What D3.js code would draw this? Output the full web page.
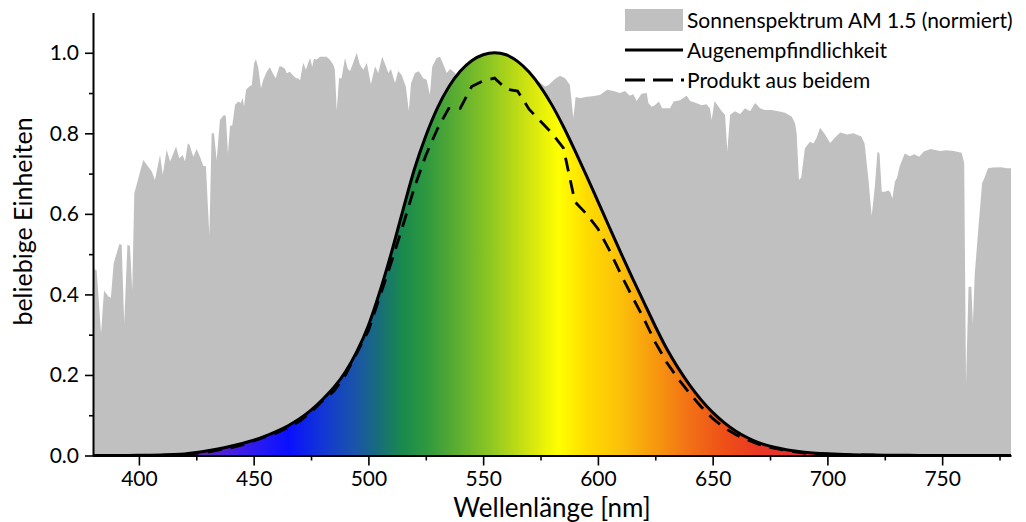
<!DOCTYPE html>
<html>
<head>
<meta charset="utf-8">
<script src="https://cdn.jsdelivr.net/npm/d3@7"></script>
<style>
  body { margin: 0; background: #fff; }
  svg { display: block; font-family: Lato, "Open Sans", sans-serif; }
</style>
</head>
<body>
<div id="chart"></div>
<script>
// AM 1.5 solar spectrum, normalised (wavelength nm / relative value)
const solarWl = [380, 381.6, 383.5, 384.8, 386.7, 387.8, 389, 391.5, 392.5, 393.6, 395, 396.1, 397.1, 398, 399,
  401.9, 404.1, 405.6, 407, 409.2, 410.4, 412.1, 413.6, 416.2, 417.6, 419.1, 420.1, 421.3, 422, 423.7, 425.2,
  426.6, 428.1, 429.2, 430.7, 431.7, 432.7, 433.9, 435.3, 437.1, 437.9, 438.8, 439.7, 440.7, 441.9, 443.3,
  444.4, 445.2, 445.8, 446.7, 448.1, 449.2, 450.2, 451, 452, 453.2, 454.2, 455.7, 457.1, 458.3, 459.6, 461.2,
  462.2, 463.7, 464.4, 465.8, 467, 468.5, 469.5, 470.2, 471.6, 472.8, 473.8, 474.6, 475.5, 476.3, 477.5,
  478.9, 481.8, 483.3, 484.7, 485.4, 486.2, 487.2, 488.3, 489.8, 491, 492, 493.4, 494.9, 496.3, 497.8, 499.3,
  501.1, 502.9, 504.3, 506, 507.4, 508.7, 509.8, 511.6, 513, 514.5, 516.3, 517.6, 518.6, 520.3, 522, 523.9,
  525.4, 526.8, 527.8, 529.7, 531.2, 532.6, 534.1, 535.6, 537.8, 540, 545, 550, 555, 560, 565, 570, 574,
  577, 578.5, 581.3, 583.5, 585.7, 587.8, 589.3, 590.3, 592.2, 594.5, 597.4, 600.9, 604, 606.9, 609.6,
  611.8, 613.9, 615.4, 616.9, 619, 621.3, 622, 623.4, 624.8, 626.6, 628, 631.4, 633, 635.8, 638.7, 640.2,
  642.5, 645.2, 647.3, 648.8, 649.6, 650.8, 651.8, 654, 655.4, 656.4, 657.6, 659.7, 662, 664.1, 666.3,
  668.5, 670.7, 672.8, 675.7, 678.6, 681.5, 684.4, 685.9, 686.6, 687.6, 688.6, 690.2, 692.4, 693.9, 695.3,
  696.8, 699, 701.2, 703.4, 705.6, 708.5, 711.3, 714.8, 716.2, 717.8, 719.3, 720.7, 721.8, 722.7, 723.7,
  725.1, 726.5, 727.3, 728.3, 729.4, 730.4, 731.5, 733.7, 736, 737.8, 740, 742, 745, 749, 752, 755, 758.5,
  759.6, 760.4, 761.5, 762.7, 763.4, 764.2, 765.6, 767.4, 768.5, 770, 772.1, 775.8, 778, 780];
const solarVal = [0.464, 0.46, 0.303, 0.41, 0.395, 0.392, 0.477, 0.525, 0.523, 0.328, 0.523, 0.52, 0.41, 0.651, 0.672,
  0.734, 0.717, 0.705, 0.684, 0.746, 0.697, 0.759, 0.730, 0.767, 0.738, 0.746, 0.730, 0.775, 0.772, 0.742, 0.761,
  0.742, 0.719, 0.718, 0.547, 0.80, 0.80, 0.734, 0.833, 0.846, 0.842, 0.750, 0.818, 0.820, 0.871, 0.879,
  0.875, 0.888, 0.866, 0.908, 0.916, 0.920, 0.974, 0.984, 0.963, 0.912, 0.933, 0.953, 0.964, 0.950, 0.937, 0.966,
  0.966, 0.960, 0.949, 0.953, 0.945, 0.937, 0.937, 0.931, 0.975, 0.958, 0.975, 0.987, 0.965, 0.985, 0.983,
  0.99, 0.99, 0.982, 0.970, 0.958, 0.856, 0.937, 0.937, 0.987, 0.96, 0.955, 0.975, 1.0, 0.97, 0.958, 0.975,
  0.922, 0.966, 0.95, 0.99, 0.97, 0.95, 0.96, 0.925, 0.955, 0.945, 0.916, 0.856, 0.925, 0.95, 0.954, 0.937,
  0.933, 0.896, 0.965, 0.987, 0.99, 0.972, 0.95, 0.96, 0.95, 0.91, 0.935, 0.94, 0.94, 0.925, 0.925, 0.92, 0.93,
  0.916, 0.92, 0.935, 0.943, 0.937, 0.92, 0.838, 0.89, 0.887, 0.89, 0.892, 0.895, 0.908, 0.905, 0.900,
  0.905, 0.893, 0.897, 0.88, 0.898, 0.90, 0.875, 0.866, 0.870, 0.879, 0.862, 0.862, 0.879, 0.882, 0.893, 0.88,
  0.876, 0.87, 0.872, 0.862, 0.833, 0.88, 0.872, 0.855, 0.846, 0.756, 0.846, 0.855, 0.848, 0.862, 0.855,
  0.875, 0.862, 0.858, 0.858, 0.855, 0.851, 0.842, 0.825, 0.80, 0.684, 0.69, 0.763, 0.779, 0.775, 0.789,
  0.814, 0.797, 0.776, 0.79, 0.802, 0.797, 0.80, 0.792, 0.775, 0.69, 0.595, 0.67, 0.754, 0.75, 0.655,
  0.655, 0.658, 0.655, 0.638, 0.68, 0.69, 0.718, 0.75, 0.743, 0.748, 0.742, 0.755, 0.761, 0.756, 0.758, 0.756, 0.752,
  0.726, 0.18, 0.419, 0.419, 0.328, 0.45, 0.552, 0.676, 0.69, 0.713, 0.715, 0.716, 0.713, 0.713];

// eye sensitivity (photopic) and product, every 5 nm
const eyeWl = [380, 385, 390, 395, 400, 405, 410, 415, 420, 425, 430, 435, 440, 445, 450, 455, 460, 465, 470, 475,
  480, 485, 490, 495, 500, 505, 510, 515, 520, 525, 530, 535, 540, 545, 550, 555, 560, 565, 570, 575, 580, 585,
  590, 595, 600, 605, 610, 615, 620, 625, 630, 635, 640, 645, 650, 655, 660, 665, 670, 675, 680, 685, 690, 695,
  700, 705, 710, 715, 720, 725, 730, 735, 740, 745, 750, 755, 760, 765, 770, 775, 780];
const eyeVal = [0.00004, 0.00006, 0.00012, 0.00022, 0.0004, 0.00064, 0.0012, 0.0022, 0.004, 0.0073, 0.0116, 0.0168,
  0.023, 0.0298, 0.038, 0.048, 0.06, 0.0739, 0.091, 0.1126, 0.139, 0.1693, 0.208, 0.2586, 0.323, 0.4073, 0.503,
  0.6082, 0.71, 0.7932, 0.862, 0.9149, 0.954, 0.9803, 0.995, 1.0, 0.995, 0.9786, 0.952, 0.9154, 0.87, 0.8163,
  0.757, 0.6949, 0.631, 0.5668, 0.503, 0.4412, 0.381, 0.321, 0.265, 0.217, 0.175, 0.1382, 0.107, 0.0816, 0.061,
  0.0446, 0.032, 0.0232, 0.017, 0.0119, 0.0082, 0.0057, 0.0041, 0.0029, 0.0021, 0.0015, 0.001, 0.0007, 0.0005,
  0.00036, 0.00025, 0.00017, 0.00012, 0.00008, 0.00006, 0.00004, 0.00003, 0.00002, 0.00002];
const productVal = [0.00002, 0.00003, 0.00006, 0.00011, 0.00027, 0.00045, 0.0009, 0.0017, 0.003, 0.0055, 0.0085,
  0.014, 0.019, 0.026, 0.036, 0.046, 0.056, 0.07, 0.085, 0.108, 0.136, 0.16, 0.2, 0.255, 0.31, 0.395, 0.48,
  0.57, 0.665, 0.745, 0.81, 0.862, 0.862, 0.916, 0.93, 0.937, 0.91, 0.905, 0.86, 0.83, 0.8, 0.763,
  0.63, 0.6, 0.563, 0.51, 0.45, 0.394, 0.34, 0.281, 0.231, 0.19, 0.154, 0.121, 0.092, 0.069, 0.052,
  0.039, 0.028, 0.02, 0.0145, 0.0098, 0.0057, 0.0044, 0.0032, 0.0023, 0.0017, 0.0012, 0.0007, 0.0005, 0.00036,
  0.00027, 0.00019, 0.00013, 0.00009, 0.00006, 0.00002, 0.00002, 0.00002, 0.00002, 0.00001];

const xMajor = [400, 450, 500, 550, 600, 650, 700, 750];
const xMinor = [425, 475, 525, 575, 625, 675, 725, 775];
const yMajor = [0, 0.2, 0.4, 0.6, 0.8, 1.0];
const yMinor = [0.1, 0.3, 0.5, 0.7, 0.9];
const legendLabels = ["Sonnenspektrum AM 1.5 (normiert)", "Augenempfindlichkeit", "Produkt aus beidem"];

// rainbow under the eye curve
const rainbowNm = [420, 440, 455, 465, 480, 495, 505, 515, 525, 540, 555, 570, 583, 595, 610, 625, 640, 655, 670, 690];
const rainbowCol = ["#6a2aa0", "#4a1ee0", "#2018f5", "#0a10ff", "#1236d5", "#1a56a6", "#186e78", "#1a8a4c",
  "#2e9840", "#60b030", "#95ca20", "#d2e410", "#ffff00", "#ffdc00", "#fbc00a", "#f7980e", "#f27016",
  "#ee5018", "#ea3824", "#e63030"];

const W = 1026, H = 522;
const margin = {left: 93, right: 15, top: 12.5, bottom: 66.5};

const svg = d3.select("#chart").append("svg").attr("width", W).attr("height", H);

const x = d3.scaleLinear().domain([380, 780]).range([margin.left, W - margin.right]);
const y = d3.scaleLinear().domain([0, 1.1]).range([H - margin.bottom, margin.top]);

const solar = solarWl.map((w, i) => [w, solarVal[i]]);
const eye = eyeWl.map((w, i) => [w, eyeVal[i]]);
const prod = eyeWl.map((w, i) => [w, productVal[i]]);

const grad = svg.append("defs").append("linearGradient")
  .attr("id", "rainbow")
  .attr("gradientUnits", "userSpaceOnUse")
  .attr("x1", x(380)).attr("x2", x(780)).attr("y1", 0).attr("y2", 0);
grad.selectAll("stop").data(rainbowNm).enter().append("stop")
  .attr("offset", d => (d - 380) / 400)
  .attr("stop-color", (d, i) => rainbowCol[i]);

const area = d3.area().x(d => x(d[0])).y0(y(0)).y1(d => y(d[1]));
const line = d3.line().x(d => x(d[0])).y(d => y(d[1]));

svg.append("path").datum(solar).attr("d", area).attr("fill", "#c0c0c0");
svg.append("path").datum(eye).attr("d", area.curve(d3.curveMonotoneX)).attr("fill", "url(#rainbow)");
svg.append("path").datum(eye).attr("d", line.curve(d3.curveMonotoneX))
  .attr("fill", "none").attr("stroke", "#000").attr("stroke-width", 3);
svg.append("path").datum(prod).attr("d", line.curve(d3.curveLinear))
  .attr("fill", "none").attr("stroke", "#000").attr("stroke-width", 2.8)
  .attr("stroke-dasharray", "14,9");

// axes
svg.append("g").attr("transform", `translate(0,${y(0)})`)
  .call(d3.axisBottom(x).tickValues(xMajor).tickSize(10).tickPadding(6).tickSizeOuter(0).tickFormat(d3.format("d")));
svg.append("g").attr("transform", `translate(0,${y(0)})`)
  .call(d3.axisBottom(x).tickValues(xMinor).tickSize(5).tickSizeOuter(0).tickFormat(""))
  .select(".domain").remove();
svg.append("g").attr("transform", `translate(${margin.left},0)`)
  .call(d3.axisLeft(y).tickValues(yMajor).tickSize(8).tickPadding(6).tickSizeOuter(0).tickFormat(d3.format(".1f")));
svg.append("g").attr("transform", `translate(${margin.left},0)`)
  .call(d3.axisLeft(y).tickValues(yMinor).tickSize(4).tickSizeOuter(0).tickFormat(""))
  .select(".domain").remove();

svg.selectAll(".domain").attr("stroke", "#000").attr("stroke-width", 2);
svg.selectAll(".tick line").attr("stroke", "#000").attr("stroke-width", 1.6);
svg.selectAll(".tick text").attr("fill", "#000").style("font-size", "21px").style("font-family", "Lato");

// axis titles
svg.append("text").attr("x", 552).attr("y", 517).attr("text-anchor", "middle")
  .style("font-size", "26px").text("Wellenlänge [nm]");
svg.append("text").attr("transform", "translate(32,221.5) rotate(-90)").attr("text-anchor", "middle")
  .style("font-size", "25px").text("beliebige Einheiten");

// legend
const lg = svg.append("g");
const rowY = [20, 50, 80];
lg.append("rect").attr("x", 625).attr("y", rowY[0] - 11).attr("width", 58).attr("height", 22).attr("fill", "#c0c0c0");
lg.append("line").attr("x1", 625).attr("x2", 683).attr("y1", rowY[1]).attr("y2", rowY[1])
  .attr("stroke", "#000").attr("stroke-width", 3);
lg.append("line").attr("x1", 625).attr("x2", 684).attr("y1", rowY[2]).attr("y2", rowY[2])
  .attr("stroke", "#000").attr("stroke-width", 3).attr("stroke-dasharray", "20,8");
lg.selectAll("text.leg").data(legendLabels).enter().append("text")
  .attr("class", "leg")
  .attr("x", 687).attr("y", (d, i) => rowY[i] + 8)
  .style("font-size", "21px").text(d => d);
</script>
</body>
</html>
